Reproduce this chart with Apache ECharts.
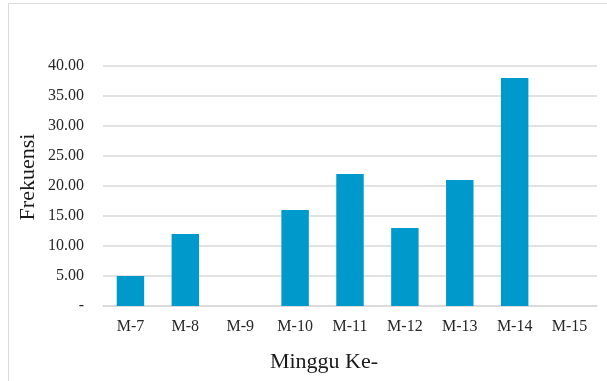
<!DOCTYPE html>
<html>
<head>
<meta charset="utf-8">
<script src="https://cdn.jsdelivr.net/npm/echarts@6/dist/echarts.min.js"></script>
<style>
  html, body { margin: 0; padding: 0; background: #fff; }
  #chart { width: 607px; height: 381px; }
</style>
</head>
<body>
<div id="chart"></div>
<script>
// data
const weeks = ['M-7', 'M-8', 'M-9', 'M-10', 'M-11', 'M-12', 'M-13', 'M-14', 'M-15']
const frekuensi = [5, 12, 0, 16, 22, 13, 21, 38, 0]
const yTicks = [0, 5, 10, 15, 20, 25, 30, 35, 40]

const serif = '"Liberation Serif", "Times New Roman", serif'

const option = {
    animation: false,
    backgroundColor: '#fff',
    grid: {
        left: 103,
        right: 10,
        top: 66,
        bottom: 75
    },
    graphic: [
        {
            type: 'rect',
            shape: { x: 8.5, y: 3.5, width: 700, height: 500 },
            style: { fill: 'none', stroke: '#dcdcdc', lineWidth: 1 },
            silent: true
        },
        {
            type: 'text',
            x: 28,
            y: 177,
            rotation: Math.PI / 2,
            style: {
                text: 'Frekuensi',
                font: '22px ' + serif,
                fill: '#1a1a1a',
                align: 'center',
                verticalAlign: 'middle'
            }
        },
        {
            type: 'text',
            x: 324,
            y: 362,
            style: {
                text: 'Minggu Ke-',
                font: '22px ' + serif,
                fill: '#1a1a1a',
                align: 'center',
                verticalAlign: 'middle'
            }
        }
    ],
    xAxis: {
        type: 'category',
        data: weeks,
        axisTick: { show: false },
        axisLine: { lineStyle: { color: '#d9d9d9', width: 1.5 } },
        axisLabel: {
            margin: 13,
            fontSize: 16,
            fontFamily: serif,
            color: '#262626'
        }
    },
    yAxis: {
        type: 'value',
        min: yTicks[0],
        max: yTicks[yTicks.length - 1],
        interval: yTicks[1] - yTicks[0],
        axisLine: { show: false },
        axisTick: { show: false },
        splitLine: { lineStyle: { color: '#d9d9d9', width: 1.5 } },
        axisLabel: {
            margin: 19,
            fontSize: 16,
            fontFamily: serif,
            color: '#262626',
            formatter: function (v) {
                return v === 0 ? '-' : v.toFixed(2)
            }
        }
    },
    series: [
        {
            type: 'bar',
            data: frekuensi,
            barWidth: '50%',
            itemStyle: { color: '#0099cc' }
        }
    ]
}

const chart = echarts.init(document.getElementById('chart'))
chart.setOption(option)
</script>
</body>
</html>
